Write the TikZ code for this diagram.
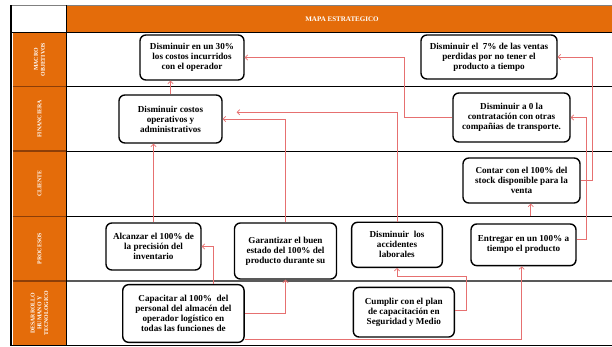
\documentclass[tikz,border=0pt]{standalone}
\usepackage{fontspec}
\setmainfont{Liberation Serif}
\usetikzlibrary{arrows.meta}
\definecolor{naranja}{RGB}{228,108,10}
\definecolor{marron}{RGB}{140,62,8}
\definecolor{rosa}{RGB}{230,112,112}
\tikzset{>={Straight Barb[length=2.2pt,width=4.5pt]}}
\tikzset{
  objetivo/.style={draw, line width=1.2pt, rounded corners=5pt, align=center, inner sep=0pt,
    font=\bfseries\fontsize{7.8}{8.6}\selectfont},
  flecha/.style={draw=rosa, line width=0.6pt, ->},
  etiqueta/.style={text=white, rotate=90, align=center, font=\bfseries\fontsize{5}{5.8}\selectfont},
  fila/.style={line width=0.8pt}
}

\begin{document}
\begin{tikzpicture}[x=0.03cm, y=-0.03cm]
    \useasboundingbox (0,0) rectangle (612,347);
    \fill[naranja] (66,6) rectangle (612,32.5);
    \fill[naranja] (12.7,32.5) rectangle (66,345.5);
    \draw[gray, line width=0.6pt] (11,5.5) -- (612,5.5);
    \foreach \y in {32.5,86.7,151,216.3} {
        \draw[fila] (66,\y) -- (612,\y);
        \draw[marron, line width=1pt] (12.7,\y) -- (66,\y);
    }
    \draw[black!65, line width=1.4pt] (66,281) -- (612,281);
    \draw[marron, line width=1pt] (12.7,281) -- (66,281);
    \draw[line width=1.6pt] (11,345.5) -- (612,345.5);
    \draw[line width=1.4pt] (11,5.5) -- (11,346.3);
    \draw[fila] (66,5.5) -- (66,345.5);
    \draw[fila] (11,32.5) -- (66,32.5);

    \node[text=white, font=\bfseries\fontsize{6}{6.5}\selectfont] (titulo) at (342,19.2) {MAPA ESTRATEGICO};
    \node[etiqueta] (macro) at (39.5,59.6) {MACRO\\OBJETIVOS};
    \node[etiqueta] (financiera) at (39.5,118.9) {FINANCIERA};
    \node[etiqueta] (cliente) at (39.5,183.6) {CLIENTE};
    \node[etiqueta] (procesos) at (39.5,248.7) {PROCESOS};
    \node[etiqueta] (desarrollo) at (39.5,313.2) {DESARROLLO\\HUMANO Y\\TECNOLOGICO};

    \node[objetivo, minimum width=3.12cm, minimum height=1.35cm] (reduccion) at (192,57.5) {Disminuir en un 30\%\\los costos incurridos\\con el operador};
    \node[objetivo, minimum width=4.08cm, minimum height=1.32cm] (ventas) at (489,57) {Disminuir el\ \ 7\% de las ventas\\perdidas por no tener el\\producto a tiempo};
    \node[objetivo, minimum width=3.09cm, minimum height=1.44cm] (costos) at (170.5,119) {Disminuir costos\\operativos y\\administrativos};
    \node[objetivo, minimum width=3.51cm, minimum height=1.47cm] (contratacion) at (511.5,117.5) {Disminuir a 0 la\\contratación con otras\\compañias de transporte.};
    \node[objetivo, minimum width=3.51cm, minimum height=1.35cm] (stock) at (521.5,180.5) {Contar con el 100\% del\\stock disponible para la\\venta};
    \node[objetivo, minimum width=2.85cm, minimum height=1.41cm] (inventario) at (153.5,246.5) {Alcanzar el 100\% de\\la precisión del\\inventario};
    \node[objetivo, minimum width=3.06cm, minimum height=1.68cm] (estado) at (285.5,251) {Garantizar el buen\\estado del 100\% del\\producto durante su};
    \node[objetivo, minimum width=2.72cm, minimum height=1.35cm] (accidentes) at (397,244.8) {Disminuir\ \ los\\accidentes\\laborales};
    \node[objetivo, minimum width=3.15cm, minimum height=1.25cm] (entrega) at (523.5,244.8) {Entregar en un 100\% a\\tiempo el producto};
    \node[objetivo, minimum width=3.64cm, minimum height=1.73cm] (capacitar) at (183.4,313.5) {Capacitar al 100\%\ \ del\\personal del almacén del\\operador logístico en\\todas las funciones de};
    \node[objetivo, minimum width=3.03cm, minimum height=1.49cm] (plan) at (403.8,312.2) {Cumplir con el plan\\de capacitación en\\Seguridad y Medio};

    \coordinate (p4) at (236.7,112.3);
    \coordinate (q5) at (404,57.5);
    \coordinate (r6) at (586,239);
    \coordinate (r7) at (592.7,57);
    \coordinate (r8) at (530.7,216.3);
    \coordinate (r9) at (213.3,246.5);
    \coordinate (r11a) at (466.7,310.3);
    \coordinate (r11b) at (466.7,276.7);
    \coordinate (r12) at (521.7,339.5);

    \draw[flecha] (costos.north) -- (reduccion.south -| costos.north);
    \draw[flecha] (inventario.north) -- (costos.south -| inventario.north);
    \draw[flecha] (estado.north) |- (costos.east);
    \draw[flecha] (accidentes.north) |- (p4);
    \draw[flecha] (contratacion.west) -| (q5) -- (reduccion.east);
    \draw[flecha] (entrega.east |- r6) -- (r6) |- (contratacion.east);
    \draw[flecha] (stock.east) -| (r7) -- (ventas.east);
    \draw[flecha] (r8) -- (r8 |- stock.south);
    \draw[flecha] (capacitar.north -| r9) -- (r9) -- (inventario.east);
    \draw[flecha] (capacitar.east) -| (estado.south);
    \draw[flecha] (plan.east |- r11a) -- (r11a) -- (r11b) -| (accidentes.south);
    \draw[flecha] (capacitar.east |- r12) -- (r12) -- (r12 |- entrega.south);
\end{tikzpicture}
\end{document}
